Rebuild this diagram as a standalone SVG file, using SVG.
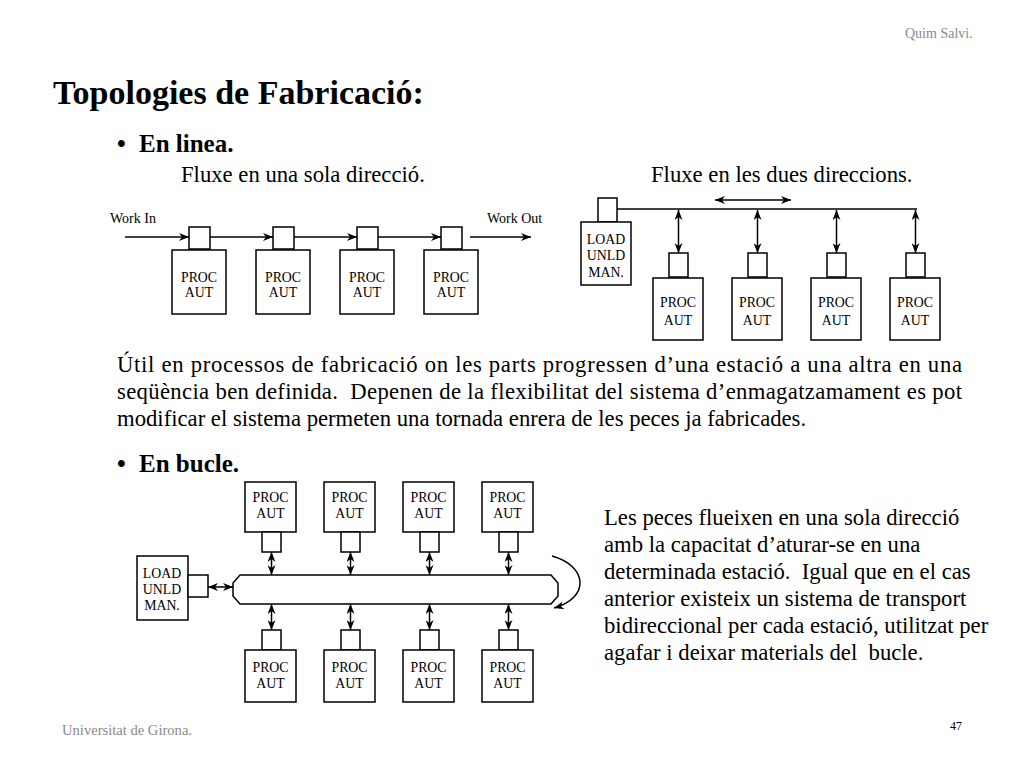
<svg xmlns="http://www.w3.org/2000/svg" width="1024" height="768" viewBox="0 0 1024 768">
<style>
text{font-family:"Liberation Serif","Times New Roman",serif;fill:#000}
.box{fill:#fff;stroke:#000;stroke-width:1.5}
.lbl{font-size:13.8px;text-anchor:middle}
.body{font-size:22.7px;white-space:pre}
.head{font-size:25px;font-weight:bold}
.ln{stroke:#000;stroke-width:1.5;fill:none}
.foot{font-size:14px;fill:#8a8a8a}
</style>
<defs>
<marker id="ah" viewBox="0 0 10 8" refX="10" refY="4" markerWidth="10" markerHeight="8" markerUnits="userSpaceOnUse" orient="auto-start-reverse">
<path d="M0,0 L10,4 L0,8 L3,4 z" fill="#000"/>
</marker>
</defs>
<rect width="1024" height="768" fill="#fff"/>

<text class="foot" x="905" y="38">Quim Salvi.</text>
<text style="font-size:34px;font-weight:bold" x="53" y="104">Topologies de Fabricació:</text>
<text class="head" x="117" y="152">•</text>
<text class="head" x="139" y="152">En linea.</text>
<text class="body" x="181" y="182">Fluxe en una sola direcció.</text>
<text class="body" x="651" y="182">Fluxe en les dues direccions.</text>

<!-- En linea, one direction -->
<text style="font-size:14px" x="110" y="223">Work In</text>
<text style="font-size:14px" x="487" y="223">Work Out</text>
<g id="l1"><rect class="box" x="189" y="227" width="21" height="22"/><rect class="box" x="172" y="250" width="54" height="64"/><text class="lbl" x="199" y="282">PROC</text><text class="lbl" x="199" y="297">AUT</text></g>
<g id="l2"><rect class="box" x="273" y="227" width="21" height="22"/><rect class="box" x="256" y="250" width="54" height="64"/><text class="lbl" x="283" y="282">PROC</text><text class="lbl" x="283" y="297">AUT</text></g>
<g id="l3"><rect class="box" x="357" y="227" width="21" height="22"/><rect class="box" x="340" y="250" width="54" height="64"/><text class="lbl" x="367" y="282">PROC</text><text class="lbl" x="367" y="297">AUT</text></g>
<g id="l4"><rect class="box" x="441" y="227" width="21" height="22"/><rect class="box" x="424" y="250" width="54" height="64"/><text class="lbl" x="451" y="282">PROC</text><text class="lbl" x="451" y="297">AUT</text></g>

<!-- two directions -->
<g id="r0"><rect class="box" x="598" y="198" width="19" height="24"/><rect class="box" x="581" y="222" width="50" height="63"/><text class="lbl" x="606" y="244">LOAD</text><text class="lbl" x="606" y="260">UNLD</text><text class="lbl" x="606" y="277">MAN.</text></g>
<g id="r1"><rect class="box" x="669" y="253" width="19" height="24"/><rect class="box" x="653" y="278" width="50" height="62"/><text class="lbl" x="678" y="307">PROC</text><text class="lbl" x="678" y="325">AUT</text></g>
<g id="r2"><rect class="box" x="748" y="253" width="19" height="24"/><rect class="box" x="732" y="278" width="50" height="62"/><text class="lbl" x="757" y="307">PROC</text><text class="lbl" x="757" y="325">AUT</text></g>
<g id="r3"><rect class="box" x="827" y="253" width="19" height="24"/><rect class="box" x="811" y="278" width="50" height="62"/><text class="lbl" x="836" y="307">PROC</text><text class="lbl" x="836" y="325">AUT</text></g>
<g id="r4"><rect class="box" x="906" y="253" width="19" height="24"/><rect class="box" x="890" y="278" width="50" height="62"/><text class="lbl" x="915" y="307">PROC</text><text class="lbl" x="915" y="325">AUT</text></g>

<!-- paragraph -->
<text class="body" x="117" y="372" textLength="845" lengthAdjust="spacing">Útil en processos de fabricació on les parts progressen d’una estació a una altra en una</text>
<text class="body" x="117" y="399" textLength="845" lengthAdjust="spacing">seqüència ben definida.  Depenen de la flexibilitat del sistema d’enmagatzamament es pot</text>
<text class="body" x="117" y="426">modificar el sistema permeten una tornada enrera de les peces ja fabricades.</text>
<text class="head" x="117" y="472">•</text>
<text class="head" x="139" y="472">En bucle.</text>

<!-- loop -->
<g id="bar"><path class="box" d="M240,575 L551,575 L558,583 L558,596 L551,604 L240,604 L233,596 L233,583 Z"/></g>
<g id="b0"><rect class="box" x="137" y="556" width="51" height="64"/><rect class="box" x="188" y="575" width="20" height="22"/><text class="lbl" x="162" y="578">LOAD</text><text class="lbl" x="162" y="594">UNLD</text><text class="lbl" x="162" y="610">MAN.</text></g>
<g id="t1"><rect class="box" x="245" y="482" width="51" height="50"/><rect class="box" x="262" y="532" width="19" height="20"/><text class="lbl" x="270.5" y="502">PROC</text><text class="lbl" x="270.5" y="518">AUT</text></g>
<g id="t2"><rect class="box" x="324" y="482" width="51" height="50"/><rect class="box" x="341" y="532" width="19" height="20"/><text class="lbl" x="349.5" y="502">PROC</text><text class="lbl" x="349.5" y="518">AUT</text></g>
<g id="t3"><rect class="box" x="403" y="482" width="51" height="50"/><rect class="box" x="420" y="532" width="19" height="20"/><text class="lbl" x="428.5" y="502">PROC</text><text class="lbl" x="428.5" y="518">AUT</text></g>
<g id="t4"><rect class="box" x="482" y="482" width="51" height="50"/><rect class="box" x="499" y="532" width="19" height="20"/><text class="lbl" x="507.5" y="502">PROC</text><text class="lbl" x="507.5" y="518">AUT</text></g>
<g id="u1"><rect class="box" x="262" y="630" width="19" height="20"/><rect class="box" x="245" y="650" width="51" height="52"/><text class="lbl" x="270.5" y="672">PROC</text><text class="lbl" x="270.5" y="688">AUT</text></g>
<g id="u2"><rect class="box" x="341" y="630" width="19" height="20"/><rect class="box" x="324" y="650" width="51" height="52"/><text class="lbl" x="349.5" y="672">PROC</text><text class="lbl" x="349.5" y="688">AUT</text></g>
<g id="u3"><rect class="box" x="420" y="630" width="19" height="20"/><rect class="box" x="403" y="650" width="51" height="52"/><text class="lbl" x="428.5" y="672">PROC</text><text class="lbl" x="428.5" y="688">AUT</text></g>
<g id="u4"><rect class="box" x="499" y="630" width="19" height="20"/><rect class="box" x="482" y="650" width="51" height="52"/><text class="lbl" x="507.5" y="672">PROC</text><text class="lbl" x="507.5" y="688">AUT</text></g>

<g id="connectors">
<line class="ln" x1="125" y1="237" x2="189" y2="237" marker-end="url(#ah)"/>
<line class="ln" x1="210" y1="237" x2="273" y2="237" marker-end="url(#ah)"/>
<line class="ln" x1="294" y1="237" x2="357" y2="237" marker-end="url(#ah)"/>
<line class="ln" x1="378" y1="237" x2="441" y2="237" marker-end="url(#ah)"/>
<line class="ln" x1="470" y1="237" x2="531" y2="237" marker-end="url(#ah)"/>

<line class="ln" x1="617" y1="209" x2="917" y2="209"/>
<line class="ln" x1="715" y1="200" x2="791" y2="200" marker-start="url(#ah)" marker-end="url(#ah)"/>
<line class="ln" x1="678.5" y1="210" x2="678.5" y2="253" marker-start="url(#ah)" marker-end="url(#ah)"/>
<line class="ln" x1="757.5" y1="210" x2="757.5" y2="253" marker-start="url(#ah)" marker-end="url(#ah)"/>
<line class="ln" x1="836.5" y1="210" x2="836.5" y2="253" marker-start="url(#ah)" marker-end="url(#ah)"/>
<line class="ln" x1="915.5" y1="210" x2="915.5" y2="253" marker-start="url(#ah)" marker-end="url(#ah)"/>

<line class="ln" x1="208" y1="587" x2="233" y2="587" marker-start="url(#ah)" marker-end="url(#ah)"/>
<line class="ln" x1="271.5" y1="552" x2="271.5" y2="575" marker-start="url(#ah)" marker-end="url(#ah)"/>
<line class="ln" x1="350.5" y1="552" x2="350.5" y2="575" marker-start="url(#ah)" marker-end="url(#ah)"/>
<line class="ln" x1="429.5" y1="552" x2="429.5" y2="575" marker-start="url(#ah)" marker-end="url(#ah)"/>
<line class="ln" x1="508.5" y1="552" x2="508.5" y2="575" marker-start="url(#ah)" marker-end="url(#ah)"/>
<line class="ln" x1="271.5" y1="604" x2="271.5" y2="630" marker-start="url(#ah)" marker-end="url(#ah)"/>
<line class="ln" x1="350.5" y1="604" x2="350.5" y2="630" marker-start="url(#ah)" marker-end="url(#ah)"/>
<line class="ln" x1="429.5" y1="604" x2="429.5" y2="630" marker-start="url(#ah)" marker-end="url(#ah)"/>
<line class="ln" x1="508.5" y1="604" x2="508.5" y2="630" marker-start="url(#ah)" marker-end="url(#ah)"/>
<path class="ln" d="M552,556 C588,566 590,598 554,608" marker-end="url(#ah)"/>
</g>

<text class="body" x="604" y="525">Les peces flueixen en una sola direcció</text>
<text class="body" x="604" y="552">amb la capacitat d’aturar-se en una</text>
<text class="body" x="604" y="579">determinada estació.  Igual que en el cas</text>
<text class="body" x="604" y="606">anterior existeix un sistema de transport</text>
<text class="body" x="604" y="633">bidireccional per cada estació, utilitzat per</text>
<text class="body" x="604" y="660">agafar i deixar materials del  bucle.</text>

<text class="foot" x="62" y="735" textLength="130" lengthAdjust="spacingAndGlyphs">Universitat de Girona.</text>
<text style="font-size:12px" x="950" y="730">47</text>
</svg>
